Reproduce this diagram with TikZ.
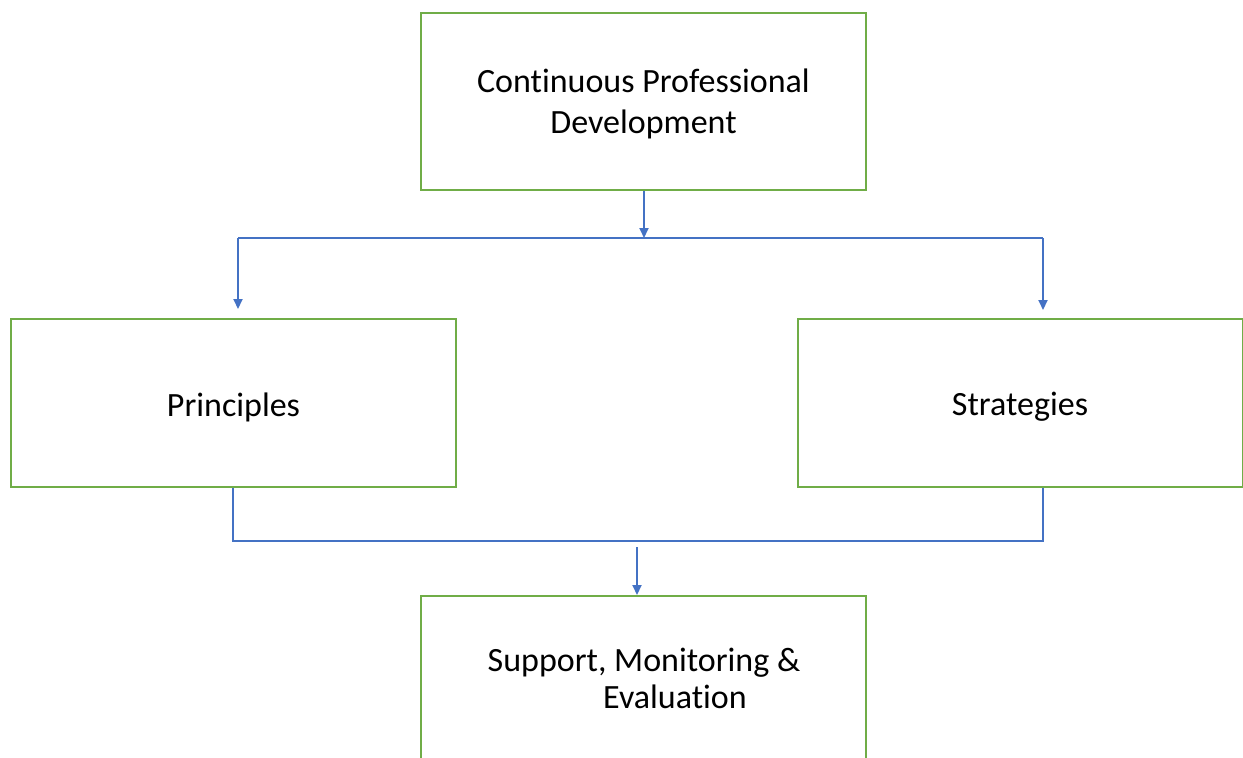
\documentclass[tikz,border=0pt]{standalone}
\usepackage{fontspec}
\setmainfont{Carlito}[Ligatures=NoCommon]
\usetikzlibrary{arrows.meta}
\definecolor{boxgreen}{HTML}{70AD47}
\definecolor{linkblue}{HTML}{4472C4}
\begin{document}
\begin{tikzpicture}[x=1pt,y=-1pt,
  box/.style={draw=boxgreen,line width=2pt,minimum width=445pt,inner sep=0pt,align=center},
  lbl/.style={align=center,inner sep=0pt,font=\fontsize{34}{41}\selectfont},
  link/.style={draw=linkblue,line width=2pt},
  arr/.style={link,-{Triangle[width=9pt,length=10pt]}}]
\useasboundingbox (0,0) rectangle (1243,758);
\clip (0,0) rectangle (1243,758);
\node[box,minimum height=177pt] (cpd) at (643.5,101.5) {};
\node[box,minimum height=168pt] (pri) at (233.5,403) {};
\node[box,minimum height=168pt] (str) at (1020,403) {};
\node[box,minimum height=190pt,anchor=north] (sme) at (643.5,595) {};
\node[lbl] (cpdtext) at (643.5,104) {Continuous Professional\\Development};
\node[lbl] (pritext) at (233.5,407) {Principles};
\node[lbl] (strtext) at (1020,407) {Strategies};
\node[lbl,font=\fontsize{34}{37}\selectfont] (smetext) at (644,678) {Support, Monitoring \&\\\hspace*{62pt}Evaluation};
% top branch
\coordinate (hub) at (644,238);
\coordinate (hl) at (238,238);
\coordinate (hr) at (1043,238);
\coordinate (tl) at (238,309);
\coordinate (tr) at (1043,310);
\draw[arr] (cpd.south -| hub) -- (hub);
\draw[link] (hl) -- (hr);
\draw[arr] (hl) -- (tl);
\draw[arr] (hr) -- (tr);
% bottom join
\coordinate (bl) at (233,541);
\coordinate (br) at (1043,541);
\draw[link] (pri.south -| bl) -- (bl) -- (br) -- (str.south -| br);
\coordinate (jstart) at (637,547);
\draw[arr] (jstart) -- (sme.north -| jstart);
\end{tikzpicture}
\end{document}
